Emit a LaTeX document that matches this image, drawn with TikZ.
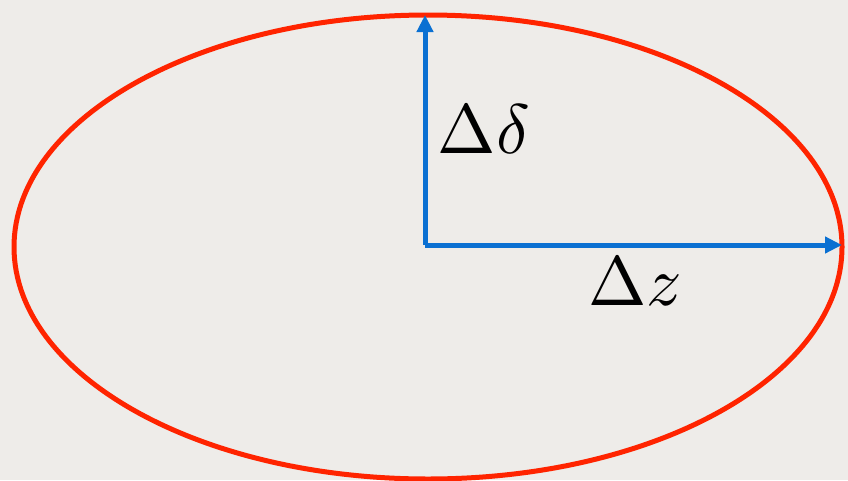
\documentclass[tikz,border=0pt]{standalone}
\usepackage{tikz}
\usetikzlibrary{shapes.geometric, arrows.meta, calc}
\definecolor{paper}{RGB}{238, 236, 233}
\definecolor{orbitred}{RGB}{255, 36, 0}
\definecolor{axisblue}{RGB}{10, 112, 210}

\begin{document}
\begin{tikzpicture}[
    x=1pt, y=-1pt,
    orbit/.style={ellipse, draw=orbitred, line width=5pt, inner sep=0pt, outer sep=0pt, minimum width=828pt, minimum height=464pt},
    arr/.style={-{Triangle[length=17pt, width=16pt]}, line width=5pt, axisblue},
    lbl/.style={scale=7, transform shape, inner sep=0pt},
]

\fill[paper] (0,0) rectangle (848,480);
\useasboundingbox (0,0) rectangle (848,480);

\node[orbit] (ell) at (428,247) {};
\coordinate (origin) at (425,245);

% axes
\draw[arr] (origin) -- (origin |- ell.north);
\draw[arr] (origin) -- (ell.east |- origin);

\node[lbl] (ddelta) at (484,129) {$\Delta\delta$};
\node[lbl] (dz) at (635,282) {$\Delta z$};

\end{tikzpicture}
\end{document}
